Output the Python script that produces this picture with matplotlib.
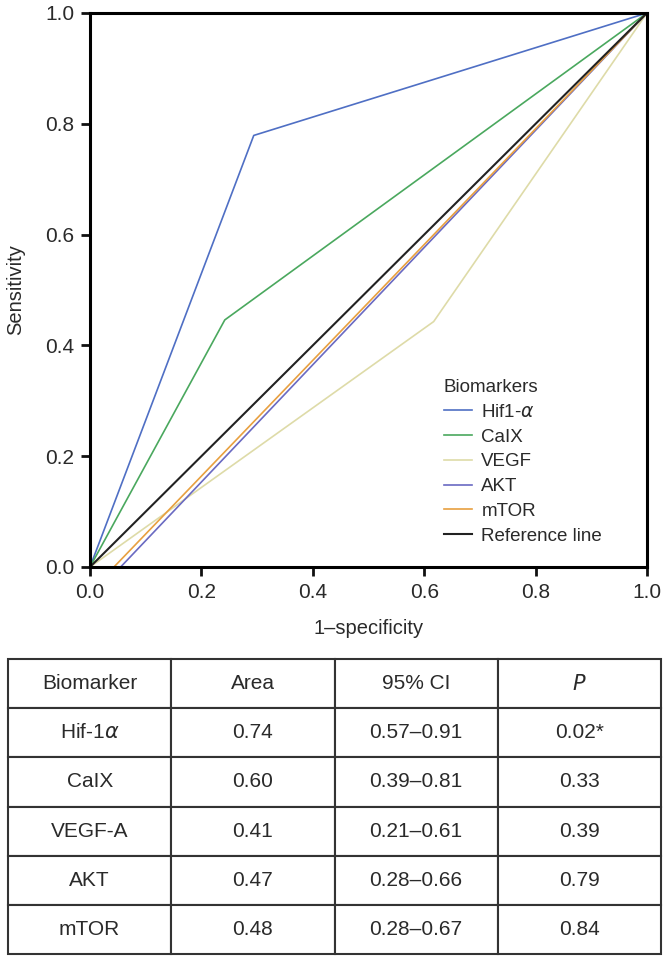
import matplotlib.pyplot as plt

plt.rcParams['font.family'] = ['Liberation Sans', 'DejaVu Sans']

# ROC curve points (1-specificity, sensitivity)
hif_x = [0.0, 0.294, 1.0]
hif_y = [0.0, 0.779, 1.0]
caix_x = [0.0, 0.242, 1.0]
caix_y = [0.0, 0.446, 1.0]
vegf_x = [0.0, 0.617, 1.0]
vegf_y = [0.0, 0.443, 1.0]
akt_x = [0.055, 1.0]
akt_y = [0.0, 1.0]
mtor_x = [0.043, 1.0]
mtor_y = [0.0, 1.0]
ref_x = [0.0, 1.0]
ref_y = [0.0, 1.0]

# table contents
col_labels = ['Biomarker', 'Area', '95% CI', '$P$']
biomarkers = ['Hif-1$\\alpha$', 'CaIX', 'VEGF-A', 'AKT', 'mTOR']
areas = ['0.74', '0.60', '0.41', '0.47', '0.48']
cis = ['0.57\u20130.91', '0.39\u20130.81', '0.21\u20130.61', '0.28\u20130.66', '0.28\u20130.67']
pvals = ['0.02*', '0.33', '0.39', '0.79', '0.84']

txt_col = '#2a2a2a'

fig = plt.figure(figsize=(6.68, 9.57), dpi=100)
ax = fig.add_axes([90/668, 390/957, 557/668, 554/957])

ax.plot(hif_x, hif_y, color='#4f6fc4', lw=1.2, label='Hif1-$\\alpha$')
ax.plot(caix_x, caix_y, color='#4aa85e', lw=1.2, label='CaIX')
ax.plot(vegf_x, vegf_y, color='#dedba8', lw=1.2, label='VEGF')
ax.plot(akt_x, akt_y, color='#6a6ac2', lw=1.2, label='AKT')
ax.plot(mtor_x, mtor_y, color='#e8a040', lw=1.2, label='mTOR')
ax.plot(ref_x, ref_y, color='#222222', lw=1.5, label='Reference line')

ax.set_xlim(0, 1)
ax.set_ylim(0, 1)
ax.set_xticks([0, 0.2, 0.4, 0.6, 0.8, 1.0])
ax.set_yticks([0, 0.2, 0.4, 0.6, 0.8, 1.0])
ax.set_xticklabels(['0.0', '0.2', '0.4', '0.6', '0.8', '1.0'])
ax.set_yticklabels(['0.0', '0.2', '0.4', '0.6', '0.8', '1.0'])
ax.tick_params(direction='out', length=6.5, width=2, labelsize=15, pad=5,
               color='#111111', labelcolor=txt_col)
for s in ax.spines.values():
    s.set_linewidth(2.2)
ax.set_xlabel('1\u2013specificity', fontsize=14.5, labelpad=12, color=txt_col)
ax.set_ylabel('Sensitivity', fontsize=14.5, labelpad=14, color=txt_col)

leg = ax.legend(title='Biomarkers', loc='upper left', bbox_to_anchor=(0.605, 0.37),
                frameon=False, fontsize=13.5, title_fontsize=13.5, handlelength=1.5,
                handletextpad=0.5, labelspacing=0.41, alignment='left')
for t in leg.get_texts():
    t.set_color(txt_col)
leg.get_title().set_color(txt_col)

# table
tax = fig.add_axes([8/668, 3/957, 653/668, 295/957])
tax.axis('off')
cells = [[biomarkers[i], areas[i], cis[i], pvals[i]] for i in range(len(biomarkers))]
tbl = tax.table(cellText=cells, colLabels=col_labels, cellLoc='center',
                bbox=[0, 0, 1, 1])
tbl.auto_set_font_size(False)
tbl.set_fontsize(15)
for key, cell in tbl.get_celld().items():
    cell.set_linewidth(1.5)
    cell.set_edgecolor('#333333')
    cell.get_text().set_color(txt_col)

plt.savefig('out.png', dpi=100)
